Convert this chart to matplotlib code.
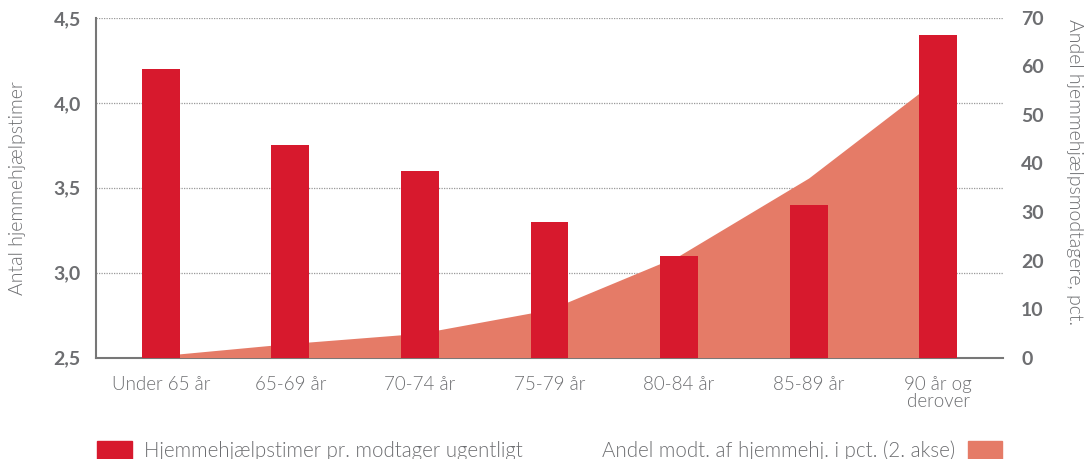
import matplotlib.pyplot as plt
from matplotlib.patches import Patch
from matplotlib.ticker import FuncFormatter

# data
aldersgrupper = ["Under 65 år", "65-69 år", "70-74 år", "75-79 år",
                 "80-84 år", "85-89 år", "90 år og\nderover"]
timer_pr_modtager = [4.2, 3.75, 3.6, 3.3, 3.1, 3.4, 4.4]
andel_modtagere = [0.4, 2.9, 5.0, 9.9, 21.0, 37.0, 57.5]

rod = "#D7192D"
laks = "#E57B67"
graa = "#6D6E71"
tynd = 300  # light vægt

plt.rcParams['font.family'] = ['Lato', 'DejaVu Sans']

fig = plt.figure(figsize=(10.85, 4.59), dpi=100)
ax = fig.add_axes([0.0885, 0.221, 0.8359, 0.740])
x = list(range(len(aldersgrupper)))

# grid + venstre akse
ax.set_ylim(2.5, 4.5)
ax.set_yticks([2.5, 3.0, 3.5, 4.0, 4.5])
ax.yaxis.set_major_formatter(FuncFormatter(lambda v, p: f"{v:.1f}".replace(".", ",")))
ax.grid(axis="y", linestyle=(0, (1, 1)), color="#999999", linewidth=0.9)
ax.set_xlim(-0.5, 6.5)
ax.set_xticks(x)
ax.set_xticklabels(aldersgrupper, fontsize=13.5, color=graa, linespacing=1.0,
                   fontweight=tynd)
ax.tick_params(axis="y", length=0, labelsize=14, labelcolor=graa, pad=11)
ax.tick_params(axis="x", length=0, pad=13)
for lbl in ax.get_yticklabels():
    lbl.set_fontweight("bold")
for s in ["top", "right"]:
    ax.spines[s].set_visible(False)
for s in ["left", "bottom"]:
    ax.spines[s].set_color("#777777")
    ax.spines[s].set_linewidth(1.5)

# areal paa 2. akse
ax2 = ax.twinx()
ax2.set_ylim(0, 70)
ax2.set_yticks(range(0, 71, 10))
ax2.fill_between(x, andel_modtagere, 0, color=laks, linewidth=0)
ax2.tick_params(axis="y", length=0, labelsize=14, labelcolor=graa, pad=13)
for lbl in ax2.get_yticklabels():
    lbl.set_fontweight("bold")
for s in ax2.spines.values():
    s.set_visible(False)

# soejler oeverst
ax3 = ax.twinx()
ax3.set_ylim(2.5, 4.5)
ax3.bar(x, [v - 2.5 for v in timer_pr_modtager], bottom=2.5, width=0.293, color=rod)
ax3.axis("off")

fig.text(0.008, 0.59, "Antal hjemmehjælpstimer", rotation=90,
         ha="left", va="center", fontsize=14, color=graa, fontweight=tynd)
fig.text(0.998, 0.958, "Andel hjemmehjælpsmodtagere, pct.", rotation=270,
         ha="right", va="top", fontsize=14, color=graa, fontweight=tynd)

leg1 = fig.legend(handles=[Patch(color=rod, label="Hjemmehjælpstimer pr. modtager ugentligt")],
                  loc="lower left", bbox_to_anchor=(0.072, -0.045), frameon=False,
                  fontsize=14.8, handlelength=1.7, handleheight=1.0, handletextpad=0.6)
for t in leg1.get_texts():
    t.set_color(graa)
    t.set_fontweight(tynd)
leg2 = fig.legend(handles=[Patch(color=laks, label="Andel modt. af hjemmehj. i pct. (2. akse)")],
                  loc="lower right", bbox_to_anchor=(0.941, -0.045), frameon=False,
                  fontsize=14.8, handlelength=1.7, handleheight=1.0, handletextpad=0.6,
                  markerfirst=False)
for t in leg2.get_texts():
    t.set_color(graa)
    t.set_fontweight(tynd)

fig.savefig("out.png", dpi=100)
